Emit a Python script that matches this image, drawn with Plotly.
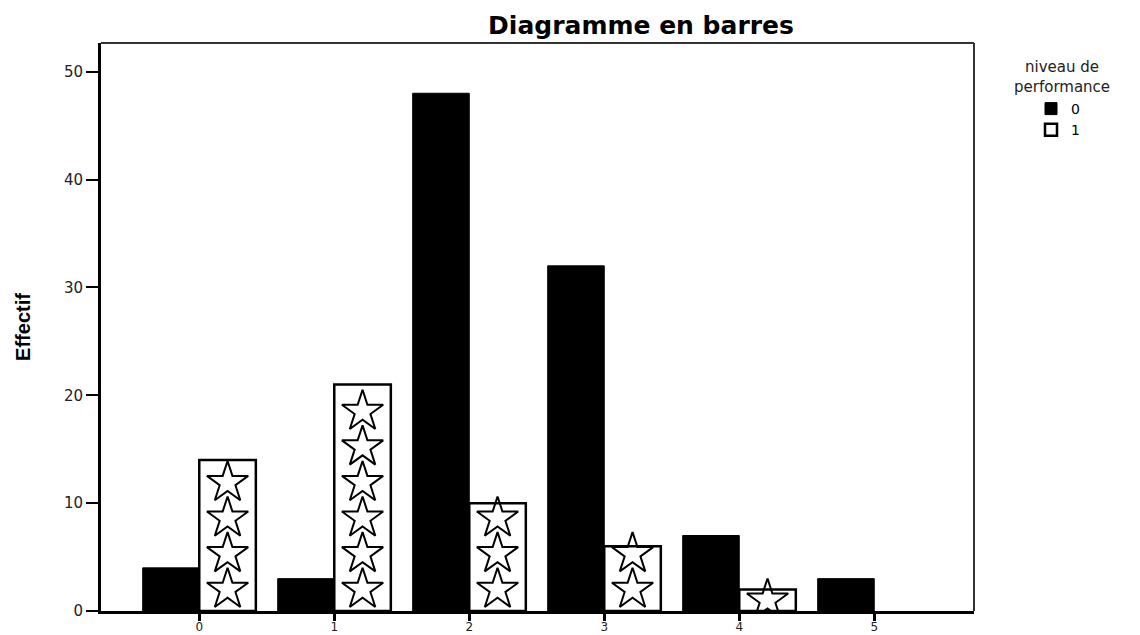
import plotly.graph_objects as go

# ---- data ----
categories = [0, 1, 2, 3, 4, 5]
tick_labels = ["0", "1", "2", "3", "4", "5"]
perf0_counts = [4, 3, 48, 32, 7, 3]      # niveau de performance = 0 (black)
perf1_counts = [14, 21, 10, 6, 2, 0]     # niveau de performance = 1 (star pattern)
series_names = ["0", "1"]
y_ticks = [0, 10, 20, 30, 40, 50]

# page body has an 8px default margin: size the figure to fill the window
OFF = 8
W, H = 1140 - OFF, 635 - OFF
ML, MR, MT, MB = 101 - OFF, 166, 43 - OFF, 24
PW, PH = W - ML - MR, H - MT - MB

BARGAP = 0.162
half_w = (1 - BARGAP) / 4  # centre offset of each bar inside its group

# star "fill pattern" positions, derived from bar heights (pattern step 3.3)
star_x, star_y = [], []
for c, v in zip(categories, perf1_counts):
    levels = []
    lvl = 2.0
    while lvl <= v - 0.7:
        levels.append(lvl)
        lvl += 3.3
    if v > 0 and not levels:
        levels.append(v / 2)
    for l in levels:
        star_x.append(c + half_w)
        star_y.append(l)

fig = go.Figure()
fig.add_trace(go.Bar(
    x=categories, y=perf0_counts, name=series_names[0],
    marker=dict(color="black", line=dict(color="black", width=1)),
))
fig.add_trace(go.Bar(
    x=categories, y=perf1_counts, name=series_names[1],
    marker=dict(color="white",
                line=dict(color="black", width=[2.5 if v > 0 else 0 for v in perf1_counts])),
))
fig.add_trace(go.Scatter(
    x=star_x, y=star_y, mode="markers", showlegend=False, hoverinfo="skip",
    marker=dict(symbol="star-open", size=31, color="black",
                line=dict(width=2, color="black")),
))

def px_x(p):  # screen pixel -> paper x
    return (p - OFF - ML) / PW

def px_y(p):  # screen pixel -> paper y
    return (H - MB - (p - OFF)) / PH

fig.update_layout(
    width=W, height=H,
    margin=dict(l=ML, r=MR, t=MT, b=MB, autoexpand=False),
    paper_bgcolor="white", plot_bgcolor="white",
    barmode="group", bargap=BARGAP, bargroupgap=0,
    font=dict(family="DejaVu Sans", color="black"),
    title=dict(text="<b>Diagramme en barres</b>",
               font=dict(family="DejaVu Sans", size=25, color="black"),
               x=px_x(641), xref="paper", xanchor="center",
               y=1 - (25 - OFF) / H, yref="container", yanchor="middle",
               automargin=False),
    legend=dict(
        font=dict(family="DejaVu Sans", size=14, color="black"),
        x=px_x(1031), xanchor="left",
        y=px_y(93), yanchor="top",
        bgcolor="rgba(0,0,0,0)",
        itemclick=False, tracegroupgap=0,
    ),
    showlegend=True,
    annotations=[dict(
        text="niveau de<br>performance", align="center", showarrow=False,
        xref="paper", yref="paper", x=px_x(1062), y=px_y(77),
        xanchor="center", yanchor="middle",
        font=dict(family="DejaVu Sans", size=15, color="#222"),
    )],
)

fig.update_xaxes(
    range=[-0.728, 5.739], tickmode="array", tickvals=categories, ticktext=tick_labels,
    showgrid=False, zeroline=False, automargin=False,
    showline=True, linecolor="black", linewidth=3,
    ticks="outside", ticklen=7, tickwidth=3, tickcolor="black",
    ticklabelstandoff=-4,
    tickfont=dict(family="DejaVu Sans", size=12, color="#222"),
)
fig.update_yaxes(
    range=[0, 52.66], tickmode="array", tickvals=y_ticks,
    showgrid=False, zeroline=False, automargin=False,
    showline=True, linecolor="black", linewidth=3,
    ticks="outside", ticklen=12, tickwidth=2, tickcolor="black",
    tickfont=dict(family="DejaVu Sans", size=15, color="#222"),
    title=dict(text="<b>Effectif</b>", standoff=28,
               font=dict(family="Liberation Sans", size=20, color="black")),
)

# thinner top/right frame lines
fig.add_shape(type="line", xref="paper", yref="paper", x0=0, x1=1, y0=1, y1=1,
              line=dict(color="#333", width=2))
fig.add_shape(type="line", xref="paper", yref="paper", x0=1, x1=1, y0=0, y1=1,
              line=dict(color="#333", width=2))

fig.write_html("out.html")
